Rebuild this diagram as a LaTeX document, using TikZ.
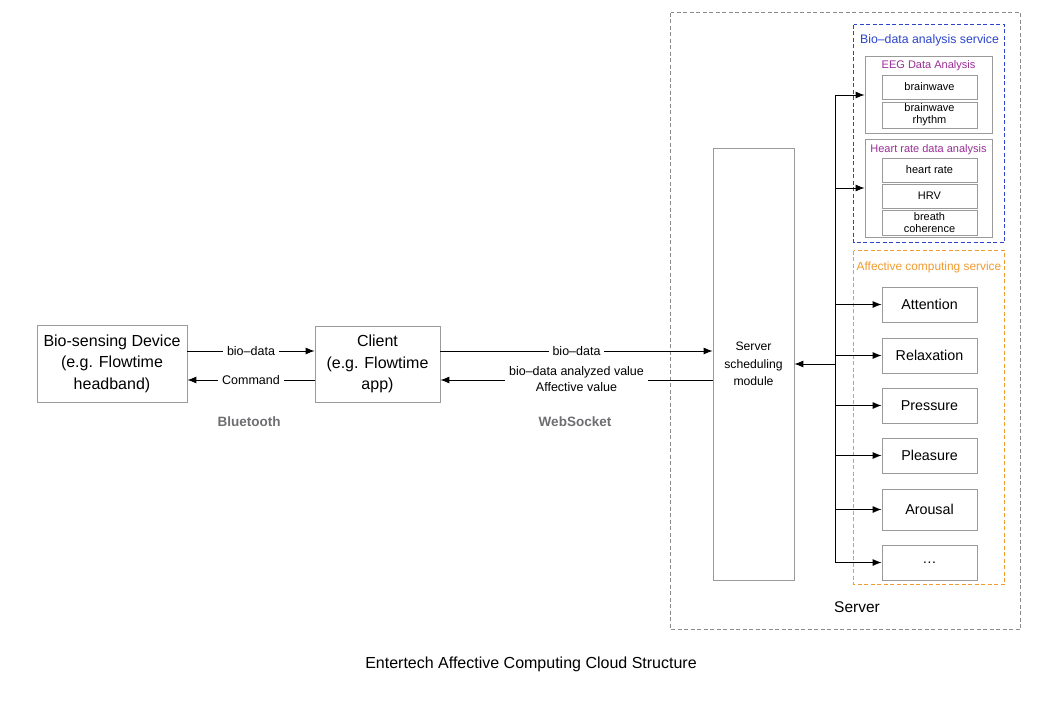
\documentclass[tikz,border=0pt]{standalone}
\usepackage{fontspec}
\setmainfont{Liberation Sans}
\usetikzlibrary{arrows.meta,positioning}
\definecolor{boxgray}{HTML}{9A9A9A}
\definecolor{srvblue}{HTML}{2B44C8}
\definecolor{srvpurple}{HTML}{9A2E96}
\definecolor{srvorange}{HTML}{EE9B2F}
\definecolor{labgray}{HTML}{6E6E72}
\begin{document}
\begin{tikzpicture}[x=1pt, y=-1pt,
    box/.style={draw=boxgray, line width=0.8pt, fill=white, inner sep=1pt, align=center},
    arr/.style={-{Latex[length=9pt,width=7pt]}, line width=0.9pt},
    lab/.style={font=\fontsize{12.5}{16}\selectfont, fill=white, inner sep=4pt, align=center},
    small/.style={font=\fontsize{11}{12}\selectfont},
    group/.style={line width=1.1pt, dash pattern=on 4pt off 2.5pt}]

    \useasboundingbox (0,0) rectangle (1063,712);

    % Server frame and its two services
    \draw[group, draw=boxgray!90!black, line width=1.6pt] (670.5,12.5) rectangle (1020.5,629.5);
    \draw[group, draw=srvblue] (853.5,24.5) rectangle (1004.5,242.5);
    \draw[group, draw=srvorange] (853.5,250.5) rectangle (1004.5,584.5);
    \node[text=srvblue, font=\fontsize{12.3}{14}\selectfont] (biotitle) at (929.5,40) {Bio--data analysis service};
    \node[text=srvorange, font=\fontsize{11.9}{14}\selectfont] (afftitle) at (929,267) {Affective computing service};
    \node[font=\fontsize{15.5}{18}\selectfont] (srvlabel) at (857,607) {Server};

    % Bio-data analysis
    \node[box, minimum width=127, minimum height=77] (eeg) at (928.5,94.5) {};
    \node[text=srvpurple, small] at (928.5,66) {EEG Data Analysis};
    \node[box, small, minimum width=95, minimum height=24] (bw) at (929.5,87) {brainwave};
    \node[box, small, minimum width=95, minimum height=26] (bwr) at (929.5,115) {brainwave\\rhythm};
    \node[box, minimum width=127, minimum height=98] (hrt) at (928.5,188) {};
    \node[text=srvpurple, small] at (928.5,150) {Heart rate data analysis};
    \node[box, small, minimum width=95, minimum height=24] (hr) at (929.5,170) {heart rate};
    \node[box, small, minimum width=95, minimum height=24] (hrv) at (929.5,196) {HRV};
    \node[box, small, minimum width=95, minimum height=25] (brc) at (929.5,222.5) {breath\\coherence};

    % Affective computing
    \foreach \n/\t/\y/\h in {att/Attention/304.5/35, rel/Relaxation/355.5/35, pre/Pressure/405.5/35,
                            ple/Pleasure/455.5/35, aro/Arousal/509.5/41, etc/\ldots/562.5/35}
        \node[box, font=\fontsize{14.3}{16}\selectfont, minimum width=95, minimum height=\h] (\n) at (929.5,\y) {\t};

    % Main chain
    \node[box, font=\fontsize{16}{21.5}\selectfont, minimum width=150, minimum height=77] (dev) at (112,363.5)
        {Bio-sensing Device\\(e.g. Flowtime\\headband)};
    \node[box, font=\fontsize{16}{21.5}\selectfont, minimum width=125, minimum height=76] (cli) at (377.5,364)
        {Client\\(e.g. Flowtime\\app)};
    \node[box, font=\fontsize{12.2}{17.5}\selectfont, minimum width=81, minimum height=432] (mod) at (753.5,364)
        {Server\\scheduling\\module};

    \draw[arr] (dev.east |- 0,351) -- node[lab] {bio--data} (cli.west |- 0,351);
    \draw[arr] (cli.west |- 0,380) -- node[lab] {Command} (dev.east |- 0,380);
    \draw[arr] (cli.east |- 0,351) -- node[lab] {bio--data} (mod.west |- 0,351);
    \draw[arr] (mod.west |- 0,380) -- node[lab, yshift=1pt] {bio--data analyzed value\\Affective value} (cli.east |- 0,380);

    \node[text=labgray, font=\bfseries\fontsize{13.5}{16}\selectfont] (bt) at (249,422) {Bluetooth};
    \node[text=labgray, font=\bfseries\fontsize{13.5}{16}\selectfont] (ws) at (575,422) {WebSocket};

    % Bus from the scheduling module to the services
    \coordinate (bustop) at (835,95);
    \coordinate (busbot) at (835,563);
    \coordinate (bus) at (835,364);
    \draw[line width=0.9pt] (bustop) -- (busbot);
    \draw[arr] (bus) -- (mod.east |- bus);
    \draw[arr] (bustop) -- (eeg.west |- bustop);
    \draw[arr] (835,188) -- (hrt.west |- 0,188);
    \foreach \n in {att,rel,pre,ple,aro,etc}
        \draw[arr] (bustop |- \n.west) -- (\n.west);

    \node[font=\fontsize{16}{18}\selectfont] (caption) at (531,664) {Entertech Affective Computing Cloud Structure};

\end{tikzpicture}
\end{document}
